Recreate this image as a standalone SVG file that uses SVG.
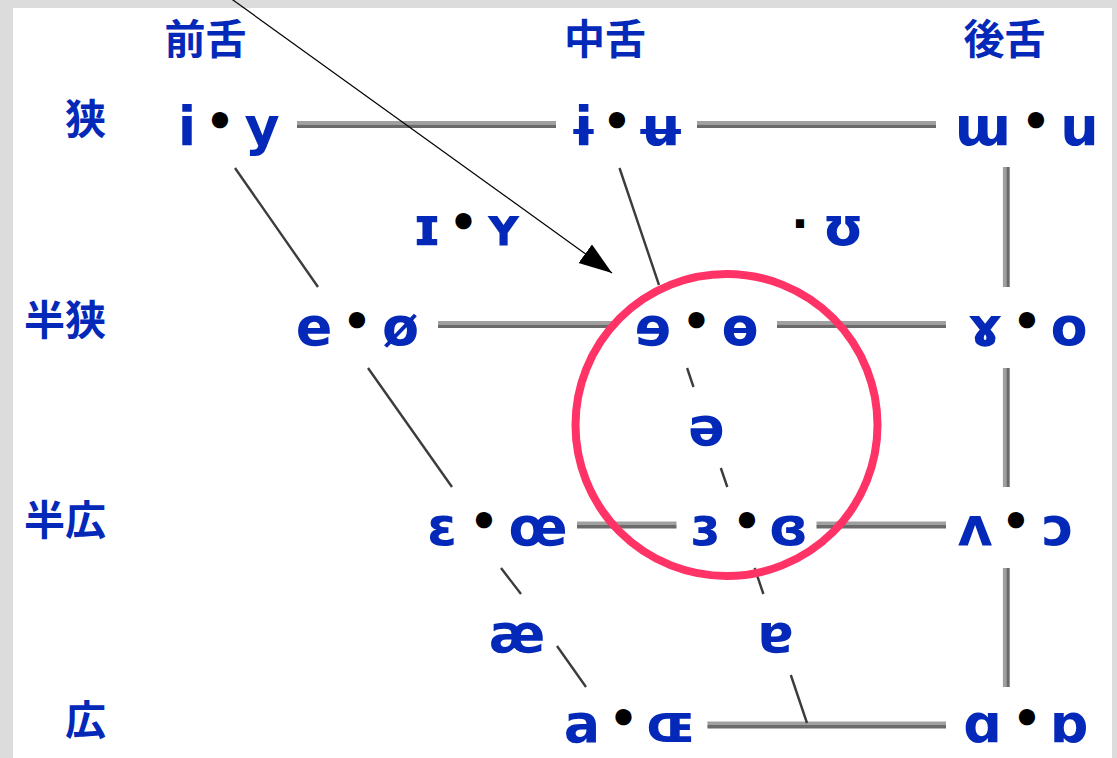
<svg xmlns="http://www.w3.org/2000/svg" width="1117" height="758" viewBox="0 0 1117 758">
<defs>
<style>
.v{font-family:"DejaVu Sans","Liberation Sans",sans-serif;font-weight:bold;font-size:54px;fill:#0429b8;text-anchor:middle}
.d{font-family:"DejaVu Sans","Liberation Sans",sans-serif;font-weight:bold;font-size:46px;fill:#000;text-anchor:middle}
.h{font-family:"Noto Sans CJK JP","Noto Sans CJK SC",sans-serif;font-weight:bold;font-size:41px;fill:#0429b8}
.lt{stroke:#a0a0a0;stroke-width:3.4;fill:none}
.dk{stroke:#6a6a6a;stroke-width:3.4;fill:none}
.dg{stroke:#3c3c3c;stroke-width:2.4;fill:none}
</style>
<marker id="ah" markerUnits="userSpaceOnUse" markerWidth="34" markerHeight="24" refX="33" refY="11.5" orient="auto">
<path d="M0,0 L33,11.5 L0,23 Z" fill="#000"/>
</marker>
</defs>
<rect x="0" y="0" width="1117" height="758" fill="#dcdcdc"/>
<rect x="13" y="8" width="1099" height="760" fill="#fff"/>

<g id="connectors">
<!-- horizontal two-tone lines -->
<path class="lt" d="M297,122.8H556 M697,122.8H936 M438,322.8H616 M777,322.8H946 M577,523.3H676.5 M816.5,523.3H946 M707.4,723.3H946"/>
<path class="dk" d="M297,126.2H556 M697,126.2H936 M438,326.2H616 M777,326.2H946 M577,526.7H676.5 M816.5,526.7H946 M707.4,726.7H946"/>
<!-- vertical back line -->
<path class="lt" d="M1004.6,167V287 M1004.6,368V487 M1004.6,568V687"/>
<path class="dk" d="M1008,167V287 M1008,368V487 M1008,568V687"/>
<!-- front diagonal -->
<path class="dg" d="M235,168L318,287 M368,368L452,487 M501,568L521,594 M557,646L586,687"/>
<!-- central diagonal -->
<path class="dg" d="M619.5,168L659,285 M687.1,368L693.5,387 M720.8,468L727.3,487 M754.6,568L763.4,594 M790.8,675L807,723"/>
</g>

<g id="headers">
<text class="h" x="205.5" y="54" text-anchor="middle">前舌</text>
<text class="h" x="605" y="54" text-anchor="middle">中舌</text>
<text class="h" x="1004.5" y="54" text-anchor="middle">後舌</text>
<text class="h" x="106" y="134" text-anchor="end">狭</text>
<text class="h" x="106" y="335" text-anchor="end">半狭</text>
<text class="h" x="106" y="535" text-anchor="end">半広</text>
<text class="h" x="106" y="735" text-anchor="end">広</text>
</g>

<g id="n-i-y"><text class="v" y="145"><tspan x="187">i</tspan><tspan class="d" x="220" y="137">•</tspan><tspan x="262" y="145">y</tspan></text></g>
<g id="n-ɨ-ʉ"><text class="v" y="145"><tspan x="583.5">ɨ</tspan><tspan class="d" x="617" y="137">•</tspan><tspan x="660.5" y="145">ʉ</tspan></text></g>
<g id="n-ɯ-u"><text class="v" y="145"><tspan x="983">ɯ</tspan><tspan class="d" x="1036" y="137">•</tspan><tspan x="1079.5" y="145">u</tspan></text></g>

<g id="n-ɪ-ʏ"><text class="v" y="245"><tspan x="427">ɪ</tspan><tspan class="d" x="463.5" y="237.5">•</tspan><tspan x="503.5" y="245">ʏ</tspan></text></g>
<g id="n-ʊ"><text class="v" y="245"><tspan class="d" x="800" y="240">·</tspan><tspan x="843" y="245">ʊ</tspan></text></g>

<g id="n-e-ø"><text class="v" y="345"><tspan x="314">e</tspan><tspan class="d" x="357" y="337">•</tspan><tspan x="400.5" y="345">ø</tspan></text></g>
<g id="n-ɘ-ɵ"><text class="v" y="345"><tspan x="653">ɘ</tspan><tspan class="d" x="696.5" y="337">•</tspan><tspan x="740" y="345">ɵ</tspan></text></g>
<g id="n-ɤ-o"><text class="v" y="345"><tspan x="985">ɤ</tspan><tspan class="d" x="1027" y="337">•</tspan><tspan x="1069" y="345">o</tspan></text></g>

<g id="n-ə"><text class="v" x="706.5" y="445">ə</text></g>

<g id="n-ɛ-œ"><text class="v" y="545"><tspan x="442">ɛ</tspan><tspan class="d" x="484" y="537">•</tspan><tspan x="538" y="545">œ</tspan></text></g>
<g id="n-ɜ-ɞ"><text class="v" y="545"><tspan x="705">ɜ</tspan><tspan class="d" x="747" y="537">•</tspan><tspan x="788.6" y="545">ɞ</tspan></text></g>
<g id="n-ʌ-ɔ"><text class="v" y="545"><tspan x="975">ʌ</tspan><tspan class="d" x="1016" y="537">•</tspan><tspan x="1058" y="545">ɔ</tspan></text></g>

<g id="n-æ"><text class="v" x="517" y="652">æ</text></g>
<g id="n-ɐ"><text class="v" x="775.6" y="652">ɐ</text></g>

<g id="n-a-ɶ"><text class="v" y="742"><tspan x="582">a</tspan><tspan class="d" x="623.5" y="734">•</tspan><tspan x="671" y="742">ɶ</tspan></text></g>
<g id="n-ɑ-ɒ"><text class="v" y="742"><tspan x="982.5">ɑ</tspan><tspan class="d" x="1027" y="734">•</tspan><tspan x="1069" y="742">ɒ</tspan></text></g>

<g id="annotation">
<circle cx="726.5" cy="425" r="151" fill="none" stroke="#ff3366" stroke-width="8"/>
<line x1="226" y1="-5" x2="612" y2="273" stroke="#000" stroke-width="1.2" marker-end="url(#ah)"/>
</g>
</svg>
